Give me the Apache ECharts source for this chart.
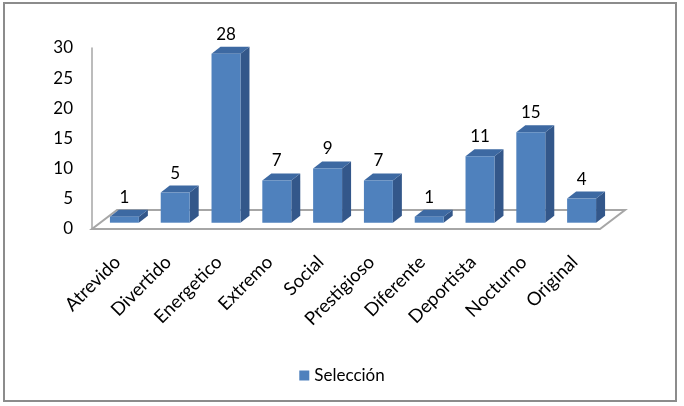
<!DOCTYPE html>
<html>
<head>
<meta charset="utf-8">
<script src="https://cdn.jsdelivr.net/npm/echarts@6/dist/echarts.min.js"></script>
<style>
html, body { margin: 0; padding: 0; background: #fff; }
#chart { width: 684px; height: 406px; }
</style>
</head>
<body>
<div id="chart"></div>
<script>
let categories = ['Atrevido', 'Divertido', 'Energetico', 'Extremo', 'Social', 'Prestigioso', 'Diferente', 'Deportista', 'Nocturno', 'Original'];
let values = [1, 5, 28, 7, 9, 7, 1, 11, 15, 4];
let seriesName = 'Selección';

let font = 'Lato, "Open Sans", sans-serif';
let frontColor = '#4F81BD';
let sideColor = '#33578A';
let topColor = '#3D69A2';

// floor depth and bar depth (fake 3d)
let floorDx = 25, floorDy = -19;
let barDx = 9, barDy = -7;
let shiftX = 7, shiftY = -6.3;

function renderFloor(params, api) {
    let cs = params.coordSys;
    let x = cs.x, y = cs.y + cs.height, w = cs.width;
    return {
        type: 'polygon',
        shape: {
            points: [[x, y], [x + w, y], [x + w + floorDx, y + floorDy], [x + floorDx, y + floorDy]]
        },
        style: { fill: '#fff', stroke: '#A6A6A6', lineWidth: 2 },
        silent: true
    };
}

function renderBar(params, api) {
    let idx = api.value(0);
    let v = api.value(1);
    let top = api.coord([idx, v]);
    let base = api.coord([idx, 0]);
    let band = api.size([1, 0])[0];
    let w = band * 0.57;
    let x0 = top[0] - w / 2 + shiftX;
    let yt = top[1] + shiftY;
    let yb = base[1] + shiftY;
    return {
        type: 'group',
        children: [
            {
                type: 'polygon',
                shape: { points: [[x0 + w, yt], [x0 + w + barDx, yt + barDy], [x0 + w + barDx, yb + barDy], [x0 + w, yb]] },
                style: { fill: sideColor }
            },
            {
                type: 'polygon',
                shape: { points: [[x0, yt], [x0 + w, yt], [x0 + w + barDx, yt + barDy], [x0 + barDx, yt + barDy]] },
                style: { fill: topColor }
            },
            {
                type: 'rect',
                shape: { x: x0, y: yt, width: w, height: yb - yt },
                style: { fill: frontColor }
            },
            {
                type: 'text',
                x: x0 + w / 2,
                y: yt - 19.5,
                style: {
                    text: String(v),
                    fill: '#000',
                    font: '17px ' + font,
                    align: 'center',
                    verticalAlign: 'middle'
                }
            }
        ]
    };
}

let chart = echarts.init(document.getElementById('chart'));

let option = {
    animation: false,
    backgroundColor: '#fff',
    graphic: [{
        type: 'rect',
        shape: { x: 4, y: 3, width: 672, height: 398 },
        style: { fill: 'none', stroke: '#8C8C8C', lineWidth: 2 },
        silent: true
    }],
    grid: { left: 92, right: 84, top: 48, bottom: 177 },
    legend: {
        data: [{ name: seriesName, icon: 'rect' }],
        left: 'center',
        top: 362,
        itemWidth: 10,
        itemHeight: 10,
        textStyle: { fontFamily: font, fontSize: 17, color: '#000' }
    },
    xAxis: {
        type: 'category',
        data: categories,
        axisLine: { show: false },
        axisTick: { show: false },
        axisLabel: {
            rotate: 45,
            margin: 30,
            interval: 0,
            color: '#000',
            fontFamily: font,
            fontSize: 18.5
        }
    },
    yAxis: {
        type: 'value',
        min: 0,
        max: 30,
        interval: 5,
        axisLine: { show: true, lineStyle: { color: '#A6A6A6', width: 1.5 } },
        axisTick: { show: false },
        splitLine: { show: false },
        axisLabel: {
            margin: 19,
            color: '#000',
            fontFamily: font,
            fontSize: 17
        }
    },
    series: [
        {
            type: 'custom',
            name: 'floor',
            renderItem: renderFloor,
            data: [0],
            z: 1,
            silent: true
        },
        {
            type: 'custom',
            name: seriesName,
            renderItem: renderBar,
            itemStyle: { color: frontColor },
            data: categories.map(function (c, i) { return [i, values[i]]; }),
            encode: { x: 0, y: 1 },
            z: 2
        }
    ]
};

chart.setOption(option);
</script>
</body>
</html>
